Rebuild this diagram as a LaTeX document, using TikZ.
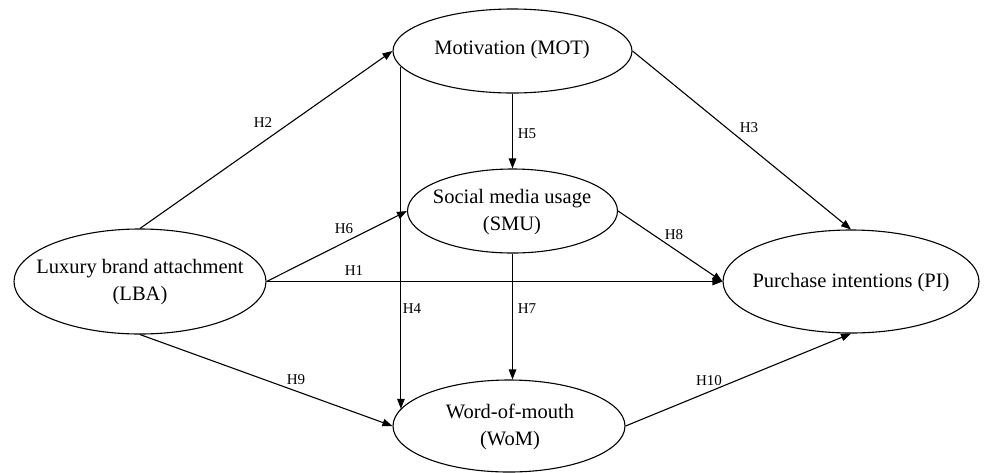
\documentclass[tikz,border=0pt]{standalone}
\usepackage{fontspec}
\setmainfont{Liberation Serif}
\usetikzlibrary{shapes.geometric,arrows.meta}
\tikzset{
  ell/.style={ellipse, draw=black, line width=1.1pt, inner sep=0pt},
  txt/.style={align=center, inner sep=0pt, font=\fontsize{20.5}{27}\selectfont},
  hlab/.style={inner sep=0pt, font=\fontsize{15}{18}\selectfont},
  arr/.style={line width=1.1pt, -{Triangle[length=10pt,width=7.5pt]}}
}
\begin{document}
\begin{tikzpicture}[x=1pt,y=-1pt]
\useasboundingbox (0,0) rectangle (984,472);
% ellipses
\node[ell, minimum width=252pt, minimum height=105pt] (LBA) at (140,281.5) {};
\node[ell, minimum width=239pt, minimum height=84pt] (MOT) at (512.5,51) {};
\node[ell, minimum width=210pt, minimum height=84pt] (SMU) at (512.5,211) {};
\node[ell, minimum width=256pt, minimum height=103pt] (PI) at (851,281.5) {};
\node[ell, minimum width=232pt, minimum height=92pt] (WOM) at (509,426) {};
% texts
\node[txt] (LBAt) at (140,282) {Luxury brand attachment\\(LBA)};
\node[txt] (MOTt) at (512,50) {Motivation (MOT)};
\node[txt] (SMUt) at (512,212) {Social media usage\\(SMU)};
\node[txt] (PIt) at (851,283) {Purchase intentions (PI)};
\node[txt] (WOMt) at (510,427) {Word-of-mouth\\(WoM)};
% connectors
\draw[arr] (LBA.north) -- (MOT.west);
\draw[arr] (LBA.east) -- (SMU.west);
\draw[arr] (LBA.east) -- (PI.west);
\draw[arr] (LBA.south) -- (WOM.west);
\draw[arr] (MOT.188) -- (MOT.188 |- WOM.171);
\draw[arr] (MOT.south) -- (SMU.north);
\draw[arr] (SMU.south) -- (SMU.south |- WOM.north);
\draw[arr] (MOT.east) -- (PI.north);
\draw[arr] (SMU.east) -- (PI.west);
\draw[arr] (WOM.east) -- (PI.south);
% labels
\node[hlab] (h1) at (354,271) {H1};
\node[hlab] (h2) at (263,123) {H2};
\node[hlab] (h3) at (749,128) {H3};
\node[hlab] (h4) at (412,309) {H4};
\node[hlab] (h5) at (527,134) {H5};
\node[hlab] (h6) at (344,229) {H6};
\node[hlab] (h7) at (527,309) {H7};
\node[hlab] (h8) at (674,235) {H8};
\node[hlab] (h9) at (296,380) {H9};
\node[hlab] (h10) at (709,381) {H10};
\end{tikzpicture}
\end{document}
